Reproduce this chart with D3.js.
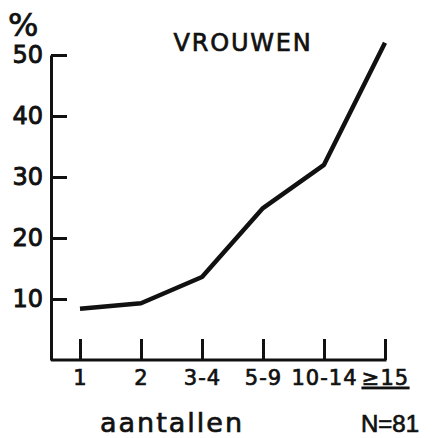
<!DOCTYPE html>
<html>
<head>
<meta charset="utf-8">
<script src="https://cdn.jsdelivr.net/npm/d3@7"></script>
<style>
  body { margin: 0; background: #fff; }
  svg text { font-family: "DejaVu Sans", sans-serif; fill: #111; stroke: #111; stroke-width: 0.7px; }
</style>
</head>
<body>
<div id="chart"></div>
<script>
var categories = ['1', '2', '3-4', '5-9', '10-14', '≥15'];
var percentages = [8.4, 9.3, 13.6, 24.9, 32, 52];
var yTicks = [10, 20, 30, 40, 50];

var width = 432, height = 438;

var svg = d3.select('#chart')
  .append('svg')
    .attr('width', width)
    .attr('height', height);

var x = d3.scalePoint()
    .domain(categories)
    .range([80, 385]);

var y = d3.scaleLinear()
    .domain([0, 50])
    .range([360, 55]);

// y axis: ticks point inwards, labels on the left
var yAxis = d3.axisLeft(y)
    .tickValues(yTicks)
    .tickSize(-16)
    .tickSizeOuter(0)
    .tickPadding(8);

var gy = svg.append('g')
    .attr('transform', 'translate(51,0)')
    .call(yAxis);

gy.select('.domain')
    .attr('stroke', '#111')
    .attr('stroke-width', 3);
gy.selectAll('.tick line')
    .attr('stroke', '#111')
    .attr('stroke-width', 3);
gy.selectAll('.tick text')
    .style('font-size', '24px')
    .style('stroke-width', '0.9px');

// x axis: ticks point up, labels below
var xAxis = d3.axisBottom(x)
    .tickSize(-21)
    .tickPadding(10);

var gx = svg.append('g')
    .attr('transform', 'translate(0,' + y(0) + ')')
    .call(xAxis);

gx.select('.domain').remove();
gx.append('line')
    .attr('x1', 51)
    .attr('x2', x(categories[categories.length - 1]) + 1.5)
    .attr('stroke', '#111')
    .attr('stroke-width', 3);
gx.selectAll('.tick line')
    .attr('stroke', '#111')
    .attr('stroke-width', 3);
gx.selectAll('.tick text')
    .style('font-size', '21px')
    .style('letter-spacing', '1px')
    .style('text-decoration', function (d) { return d === '≥15' ? 'underline' : null; });

// data line
var line = d3.line()
    .x(function (d, i) { return x(categories[i]); })
    .y(function (d) { return y(d); });

svg.append('path')
    .datum(percentages)
    .attr('d', line)
    .attr('fill', 'none')
    .attr('stroke', '#111')
    .attr('stroke-width', 4.5)
    .attr('stroke-linejoin', 'round');

// labels
svg.append('text')
    .attr('x', 8)
    .attr('y', 36)
    .style('font-size', '32px')
    .text('%');

svg.append('text')
    .attr('x', 243)
    .attr('y', 51)
    .attr('text-anchor', 'middle')
    .style('font-size', '24px')
    .style('letter-spacing', '1.8px')
    .text('VROUWEN');

svg.append('text')
    .attr('x', 172)
    .attr('y', 432)
    .attr('text-anchor', 'middle')
    .style('font-size', '27px')
    .style('letter-spacing', '2px')
    .text('aantallen');

svg.append('text')
    .attr('x', 390)
    .attr('y', 432)
    .attr('text-anchor', 'middle')
    .style('font-family', '"Liberation Sans", sans-serif')
    .style('font-size', '24px')
    .text('N=81');
</script>
</body>
</html>
